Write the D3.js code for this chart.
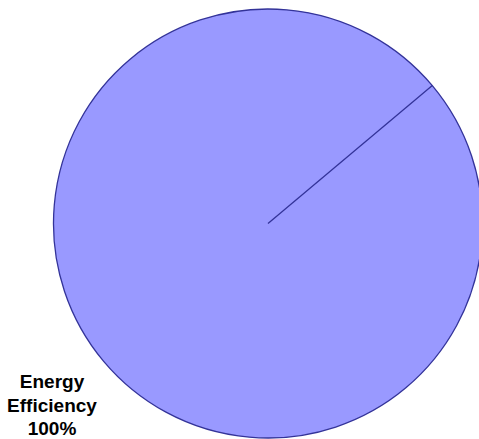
<!DOCTYPE html>
<html>
<head>
<meta charset="utf-8">
<script src="https://cdn.jsdelivr.net/npm/d3@7"></script>
<style>
  html, body { margin: 0; padding: 0; background: #fff; }
  svg { display: block; }
</style>
</head>
<body>
<svg id="chart" width="479" height="439"></svg>
<script>
// Pie data: one category holding the whole total
const categories = ["Energy Efficiency"];
const values = [100];
const labelLines = [["Energy", "Efficiency", "100%"]];

const width = 479, height = 439;
const cx = 268, cy = 223.5, radius = 214.5;
const startDeg = 50;

const svg = d3.select("#chart");
const g = svg.append("g").attr("transform", `translate(${cx},${cy})`);

const pie = d3.pie()
  .sort(null)
  .startAngle(startDeg * Math.PI / 180)
  .endAngle(startDeg * Math.PI / 180 + 2 * Math.PI)
  .value(d => d);

const arcs = pie(values);
const arc = d3.arc().innerRadius(0).outerRadius(radius);

g.selectAll("path.slice")
  .data(arcs)
  .join("path")
  .attr("class", "slice")
  .attr("d", arc)
  .attr("fill", "#9999ff")
  .attr("stroke", "#333399")
  .attr("stroke-width", 1.3)
  .attr("stroke-linejoin", "round");

// Slice edges: radial line at each slice boundary
g.selectAll("line.edge")
  .data(arcs)
  .join("line")
  .attr("class", "edge")
  .attr("x1", 0)
  .attr("y1", 0)
  .attr("x2", d => d3.pointRadial(d.startAngle, radius)[0])
  .attr("y2", d => d3.pointRadial(d.startAngle, radius)[1])
  .attr("stroke", "#333399")
  .attr("stroke-width", 1.3);

// Category label, placed at lower left outside the disc
const label = svg.append("text")
  .attr("text-anchor", "middle")
  .attr("font-family", "Liberation Sans, Arial, sans-serif")
  .attr("font-weight", "bold")
  .attr("font-size", 19)
  .attr("fill", "#000");

labelLines[0].forEach((line, i) => {
  label.append("tspan")
    .attr("x", 52)
    .attr("y", 388 + i * 23.5)
    .text(line);
});
</script>
</body>
</html>
